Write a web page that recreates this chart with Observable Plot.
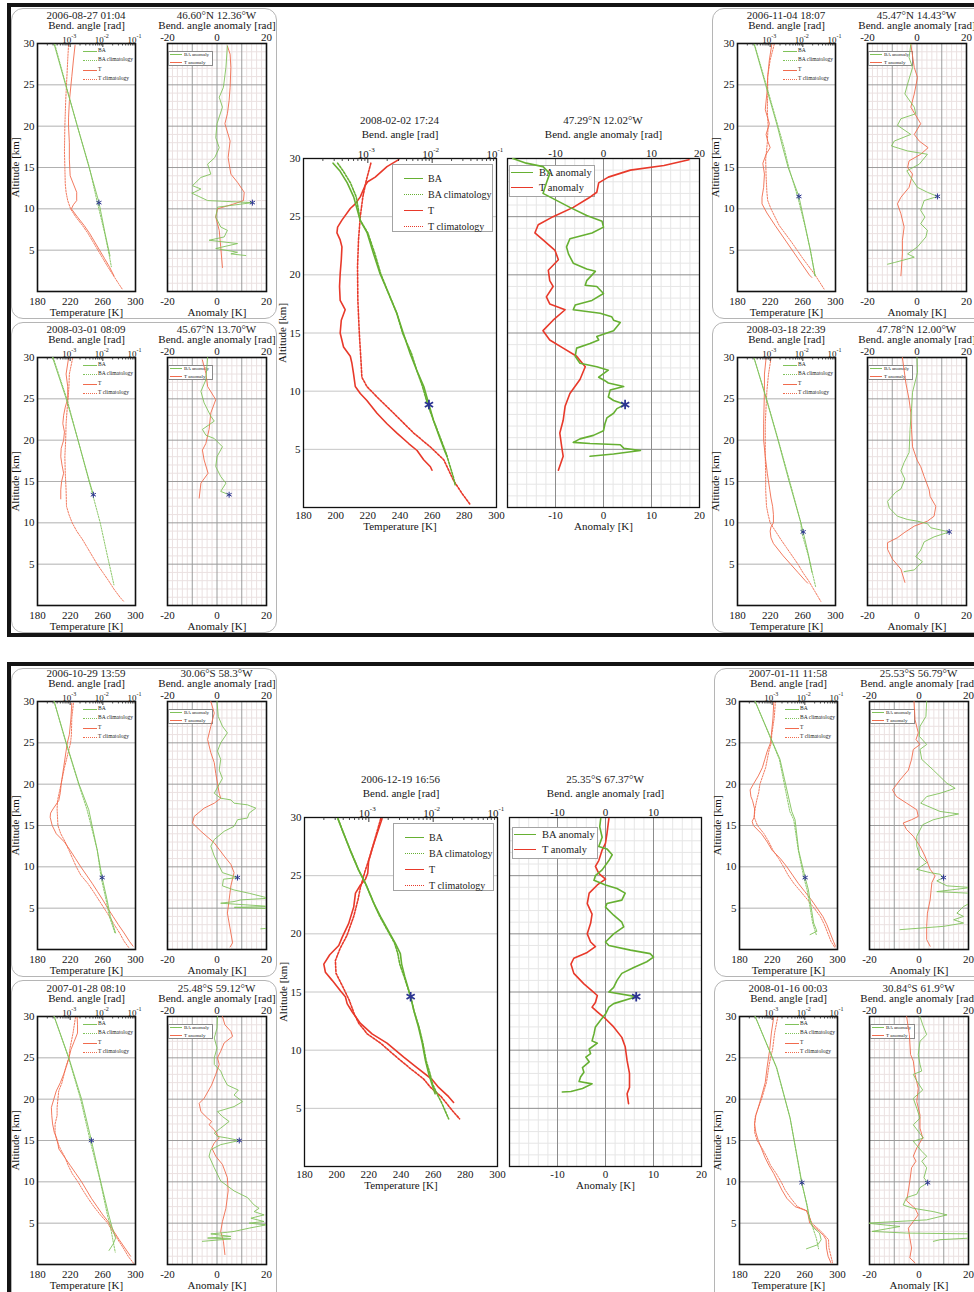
<!DOCTYPE html>
<html>
<head>
<meta charset="utf-8">
<script src="https://cdn.jsdelivr.net/npm/d3@7"></script>
<script src="https://cdn.jsdelivr.net/npm/@observablehq/plot@0.6"></script>
<style>
  html, body { margin: 0; padding: 0; background: #fff; }
  #page { position: relative; width: 974px; height: 1292px; overflow: hidden;
          font-family: "Liberation Serif", "Times New Roman", serif; color: #1c1c1c; }
  .panel { position: absolute; border: 4px solid #141414; box-sizing: border-box; }
  .card { position: absolute; border: 1px solid #b5b5b5; border-radius: 12px; box-sizing: border-box; }
  .title { position: absolute; transform: translate(-50%, -50%); font-size: 11px; line-height: 1; white-space: nowrap; }
  .legend { position: absolute; box-sizing: border-box; }
  .legend .swatch { position: absolute; height: 0; }
  .legend .lab { position: absolute; transform: translateY(-50%); line-height: 1; white-space: nowrap; }
</style>
</head>
<body>
<div id="page"></div>
<script>
// ---------------------------------------------------------------------------
// Labels and ticks
// ---------------------------------------------------------------------------
const eventTimes = ["2006-08-27 01:04", "2006-11-04 18:07", "2008-03-01 08:09", "2008-03-18 22:39",
  "2008-02-02 17:24", "2006-10-29 13:59", "2007-01-28 08:10", "2007-01-11 11:58", "2008-01-16 00:03",
  "2006-12-19 16:56"];
const eventPlaces = ["46.60°N 12.36°W", "45.47°N 14.43°W", "45.67°N 13.70°W", "47.78°N 12.00°W",
  "47.29°N 12.02°W", "30.06°S 58.3°W", "25.48°S 59.12°W", "25.53°S 56.79°W", "30.84°S 61.9°W",
  "25.35°S 67.37°W"];
const legendProfile = ["BA", "BA climatology", "T", "T climatology"];
const legendAnomaly = ["BA anomaly", "T anomaly"];
const tempTicksSmall = [180, 220, 260, 300];
const tempTicksBig = [180, 200, 220, 240, 260, 280, 300];
const anomTicksSmall = [-20, 0, 20];
const anomTicksBig = [-10, 0, 10, 20];
const anomTicksBigTop = [-10, 0, 10];
const altTicks = [5, 10, 15, 20, 25, 30];
const decades = [1e-3, 1e-2, 1e-1];

// ---------------------------------------------------------------------------
// Profiles: [altitude km, value]. Bending angle given as log10(rad).
// ---------------------------------------------------------------------------
// 2006-08-27 01:04
const e1_T = [[29.8,226],[28,224],[26,222],[25,221],[23,219],[21,218],[20,218],[18,219],[16,219],[14,220],[13,224],[12,228],[11,228],[10.5,224],[10,221.5],[9,229],[8,237],[7,244],[6,250],[5,256],[4,262],[3,268],[1.9,273.6]];
const e1_Tclim = [[29.8,218],[28,217],[26,216],[25,215.5],[23,214.5],[20,213.5],[17,213],[15,213.5],[13,214],[12,215],[11,217],[10,220.5],[9,227],[8,235],[7,242],[6,248],[5,254],[4,260],[3,266],[2,272.5],[1,279],[0.3,283.7]];
const e1_logBA = [[29.9,-3.49],[25,-3.14],[20,-2.78],[15,-2.42],[10.8,-2.12],[7,-1.93],[4.3,-1.78]];
const e1_logBAclim = [[29.9,-3.47],[25,-3.13],[20,-2.78],[15,-2.41],[10.8,-2.17],[7,-1.94],[4.3,-1.8],[3,-1.74]];
const e1_BAanom = [[29.7,4.2],[27.1,3.6],[24.7,2.6],[23.5,0.9],[22.3,2.2],[20.3,0],[18.6,-0.5],[17.4,0.9],[16.2,-0.9],[15.4,-3.8],[14.2,-2.5],[13.8,-6.5],[12.8,-9.9],[12.4,-6.5],[12.0,-9.2],[11.9,-10.2],[11.0,-3.8],[10.75,14.3],[10.2,0.2],[9.0,-0.5],[7.8,1.5],[7.4,4.2],[6.6,2.9],[6.2,-3.2],[5.8,8.3],[5.2,-0.5],[4.75,8.3],[4.55,5.6],[4.35,11.6]];
const e1_Tanom = [[29.7,4.2],[28.7,5.3],[27.1,5.6],[24.7,5.3],[23.1,4.9],[21.5,4.2],[20.3,3.2],[18.2,5.3],[16.2,4.5],[14.2,5.6],[13.2,8.3],[12.0,11],[11.0,10.7],[10.6,6.9],[10.0,0.2],[9.0,-0.5],[7.4,0.9],[5.4,1.5],[2.9,2.2]];
const e1_star = [10.75, -2.12];
const e1_starAnom = [10.75, 14.3];

// 2006-11-04 18:07
const e2_T = [[29.9,222],[28,219],[26,217],[24,216],[22,214],[20.3,219],[19,215],[18.2,217],[17.4,220],[16.6,215],[15.5,211],[14.2,213],[12.6,212],[11.4,210],[10.6,210],[9.5,216],[8,226],[6,240],[4,254],[2,268],[1.7,271]];
const e2_Tclim = [[29.9,225],[28,220],[26,217],[24,217],[22,216.5],[20,217.5],[18,216.5],[16,214.5],[14,215],[12,216],[11,217],[10,221],[8,231],[6,246],[4,260],[2,275],[0.3,286]];
const e2_logBA = [[29.9,-3.49],[25,-3.14],[20,-2.78],[17.5,-2.62],[15,-2.45],[11.5,-2.12],[8,-1.93],[5,-1.77],[1.9,-1.63]];
const e2_logBAclim = [[29.9,-3.48],[25,-3.12],[20,-2.76],[17.5,-2.58],[15,-2.43],[11.5,-2.16],[8,-1.94],[5,-1.77],[1.9,-1.62]];
const e2_BAanom = [[29.9,-2.5],[28.3,-3.2],[27.1,-1.8],[25.1,-3.8],[23.9,-4.9],[22.3,-1.1],[21.5,-0.5],[20.9,-6.5],[20.1,-7.9],[19.0,-2.5],[18.2,-9.2],[17.6,-10.3],[17.0,-3.8],[16.6,4.2],[15.4,0.9],[14.6,-4.1],[13.8,-2.5],[12.6,0.2],[12.0,4.2],[11.5,8.3],[11.0,2.9],[9.8,1.5],[9.0,3.2],[8.2,1.5],[7.4,4.2],[6.6,3.6],[5.4,0.2],[4.55,-3.8],[4.15,-1.1],[3.5,-9.2],[3.3,-11.9]];
const e2_Tanom = [[29.9,-2.5],[27.1,-1.1],[25.9,0.2],[23.9,-1.1],[22.3,-2.5],[20.3,1.5],[19.0,-1.1],[18.2,0.9],[17.4,4.5],[16.6,1.5],[15.8,-3.2],[15.0,-3.8],[14.2,-1.8],[12.6,-3.2],[11.4,-6.5],[10.6,-7.9],[9.4,-6.5],[7.8,-5.2],[6.2,-5.9],[4.55,-5.9],[1.9,-6.5]];
const e2_star = [11.5, -2.12];
const e2_starAnom = [11.5, 8.3];

// 2008-03-01 08:09
const e3_T = [[29.9,218],[28,215],[26.5,217],[25,217],[24,214],[23,212],[22,211],[21,213],[20,212],[19,209],[18,208.5],[17,210],[16,212],[15,209.5],[14,208.5],[12.9,208.5]];
const e3_Tclim = [[29.9,223],[28,219],[26.5,218.5],[25,217.5],[24,216.5],[22,215],[20,214.5],[18,213.5],[16,214],[14,215],[12,215.5],[11,218.5],[10,222.5],[9,228],[8,235],[7,241],[6,247],[5,253],[4,260],[3,267],[2,273.5],[1,281],[0.5,285.5]];
const e3_logBA = [[30,-3.54],[25,-3.12],[20,-2.76],[15,-2.41],[13.4,-2.29]];
const e3_logBAclim = [[30,-3.52],[25,-3.1],[20,-2.76],[15,-2.42],[13.4,-2.31],[10,-2.08],[6,-1.86],[2.5,-1.66]];
const e3_BAanom = [[30,-3.8],[27.3,-4.5],[25.9,-6.5],[24.5,-5.2],[22.9,-2.5],[22.3,-1.1],[21.3,-5.9],[20.6,-4.5],[20.2,-1.1],[19.2,2.2],[18.0,0],[16.8,-0.5],[15.6,1.5],[14.8,3.6],[13.8,1.5],[13.4,4.9]];
const e3_Tanom = [[29.7,-5.9],[28.1,-4.5],[26.5,-3.8],[24.9,-0.5],[23.3,-2.5],[21.3,-3.2],[19.6,-4.5],[18.8,-5.9],[17.6,-5.2],[16.0,-3.6],[14.8,-6.5],[13.0,-7.2]];
const e3_star = [13.4, -2.29];
const e3_starAnom = [13.4, 4.9];

// 2008-03-18 22:39
const e4_T = [[29.9,215],[28,213],[26,213],[24,212.5],[22,212],[20,212],[18,214],[16,216.5],[14,219.5],[13,221],[12,223],[11,224],[10,224],[9.5,221],[9,220],[8.2,221],[7.5,224],[6,236],[5,245],[4,254],[3,263],[2.7,266]];
const e4_Tclim = [[29.9,221],[28,218],[26,216],[24,215],[22,214],[20,214],[18,214],[16,214.5],[14,214.5],[12,215.5],[11,217.5],[10,220],[9,226.5],[8,233],[7,240],[6,247],[5,254],[4,260],[3,267],[2,273],[1,279],[0.5,282]];
const e4_logBA = [[29.9,-3.49],[25,-3.12],[20,-2.76],[15,-2.42],[10,-2.06],[8.9,-1.99],[6,-1.82],[4,-1.72]];
const e4_logBAclim = [[29.9,-3.49],[25,-3.11],[20,-2.75],[15,-2.4],[10,-2.06],[8.9,-2.04],[6,-1.83],[2.3,-1.61]];
const e4_BAanom = [[30,0],[28.2,0.2],[25.8,-1.8],[23.8,-2.2],[21.3,-2.8],[18.5,-3.2],[17.3,-5.2],[16.3,-6.5],[15.3,-4.9],[14.1,-6.5],[13.7,-8.6],[12.6,-11.9],[11.8,-11.2],[10.8,-7.9],[10.4,-3.8],[10.2,0.2],[9.9,4.2],[9.4,5.6],[8.9,13],[8.3,6.9],[7.7,2.9],[6.7,1.5],[5.9,-0.5],[5.3,2.2],[4.7,0.2],[4.3,-1.1],[4.1,-5.2]];
const e4_Tanom = [[30,-5.9],[26.9,-4.5],[24.9,-3.2],[23.3,-2.5],[21.3,-2.2],[19.2,-1.8],[17.6,0],[16.8,1.5],[15.6,2.9],[14.0,4.9],[13.2,5.3],[12.0,7.6],[10.8,6.9],[10.2,4.2],[9.6,-1.1],[8.8,-5.2],[8.2,-7.9],[7.6,-11.9],[6.8,-11.9],[5.6,-9.9],[4.4,-6.5],[2.8,-4.9]];
const e4_star = [8.9, -1.99];
const e4_starAnom = [8.9, 13];

// 2008-02-02 17:24
const e5_T = [[29.9,239.2],[29.3,231.9],[28.4,224.6],[28.0,219.9],[27.7,218.4],[26.7,215.3],[26.1,212.2],[25.7,209.1],[24.7,203.9],[24.1,201.2],[23.6,200.8],[23.0,202.8],[22.4,203.9],[21.3,203.5],[20.1,202.8],[19.0,202.4],[17.8,202.8],[17.0,205.9],[16.1,203.5],[15.0,202.8],[13.8,204.9],[13.0,209.1],[12.4,210.1],[11.5,211.1],[10.4,212.2],[9.8,215.3],[9.2,219.4],[8.1,225.7],[7.2,231.9],[6.4,238.1],[5.5,245.4],[4.9,250.6],[4.1,254.7],[3.5,258.9],[3.2,259.9]];
const e5_Tclim = [[29.6,221.9],[28.1,219.0],[26.7,216.9],[25.0,215.3],[23.0,214.2],[20.7,213.6],[17.8,213.8],[15.0,214.7],[12.7,215.7],[11.2,216.3],[10.4,219.4],[9.5,225.7],[8.1,236.1],[6.4,248.5],[5.2,258.9],[4.1,267.2],[2.9,271.3],[2.3,273.4],[1.2,278.6],[0.3,283.4]];
const e5_logBA = [[29.6,-3.54],[28.9,-3.43],[27.9,-3.32],[26.7,-3.22],[24.7,-3.12],[23.6,-3.01],[21.8,-2.91],[20.1,-2.81],[18.7,-2.7],[16.7,-2.55],[15.0,-2.45],[13.2,-2.34],[11.8,-2.24],[10.4,-2.13],[8.85,-2.05],[7.5,-1.98],[5.8,-1.87],[4.8,-1.8],[4.4,-1.77]];
const e5_logBAclim = [[29.6,-3.47],[28.9,-3.38],[27.9,-3.27],[26.7,-3.18],[24.7,-3.12],[23.6,-3.0],[21.8,-2.89],[20.1,-2.8],[18.7,-2.7],[16.7,-2.55],[15.0,-2.46],[13.2,-2.32],[11.8,-2.24],[10.4,-2.15],[8.85,-2.07],[7.5,-1.98],[5.8,-1.86],[4.6,-1.78],[2.6,-1.67],[1.9,-1.64]];
const e5_BAanom = [[30,-18.9],[29.6,-16.1],[29.3,-12.6],[28.7,-11.2],[27.9,-11.9],[27.0,-12.6],[26.4,-9.8],[25.8,-7.0],[25.1,-3.5],[24.6,-0.3],[24.1,0],[23.6,-2.4],[23.1,-7.0],[22.4,-7.7],[21.8,-7.3],[21.0,-6.3],[20.5,-3.5],[20.3,-1.7],[19.5,-3.5],[19.1,-3.8],[19.0,-1.4],[18.4,0],[17.8,-2.4],[17.4,-5.9],[17.0,-6.3],[16.7,-0.7],[16.4,1.7],[16.1,2.1],[15.9,3.5],[15.2,2.1],[14.7,-1.4],[14.4,-1.0],[14.1,-2.8],[13.7,-5.6],[13.0,-5.9],[12.4,-4.9],[12.1,-1.4],[11.8,1.0],[11.2,-1.0],[10.9,0.3],[10.7,1.0],[10.4,4.2],[10.1,1.4],[9.5,1.0],[9.2,2.1],[8.85,4.5],[8.5,2.8],[8.1,2.1],[7.7,0.7],[7.2,0.3],[6.6,0],[6.2,-2.1],[5.9,-4.9],[5.6,-6.3],[5.5,-2.8],[5.4,3.5],[5.1,4.2],[4.9,7.7],[4.6,2.1],[4.4,-2.8]];
const e5_Tanom = [[29.9,17.8],[29.4,12.6],[29.0,5.6],[28.4,1.0],[27.9,-1.0],[27.1,-1.4],[26.6,-3.1],[25.8,-6.3],[25.0,-10.5],[24.3,-13.6],[23.6,-14.3],[23.0,-12.6],[22.1,-10.1],[21.3,-9.4],[20.4,-11.5],[19.5,-11.2],[19.0,-10.5],[18.1,-11.9],[17.5,-11.2],[17.0,-8.0],[16.1,-10.5],[15.2,-12.6],[14.4,-11.2],[13.7,-8.4],[13.0,-5.6],[12.1,-3.8],[11.0,-4.9],[9.8,-7.0],[8.7,-8.0],[7.5,-8.4],[6.4,-9.1],[5.2,-8.7],[4.4,-8.4],[3.2,-9.4]];
const e5_star = [8.85, -2.05];
const e5_starAnom = [8.85, 4.5];

// 2006-10-29 13:59
const e6_T = [[29.8,222],[28,221],[26,219],[25,216.5],[24,215],[22,212],[20,209],[19,208],[18,206],[17,199],[16.5,196],[16,195.5],[15,198],[14,203],[13,213],[12,220],[11,226.5],[10,233],[9,240],[8,247],[7,253.5],[6,260],[5,266],[4,272.5],[3,279],[2,286],[1,292.5],[0.4,297]];
const e6_Tclim = [[29.8,224],[28,222],[26,221.5],[25,220.5],[24,218],[22,213],[20,208.8],[18,204.5],[17,204],[16,204.5],[15,205],[14,208.5],[13,214],[12,218.5],[11,223],[10,227.5],[9,233],[8,241.5],[7,248.5],[6,255],[5,261.5],[4,268],[3,274],[2,280.5],[1,286],[0.2,292]];
const e6_logBA = [[30,-3.49],[25,-3.12],[20,-2.73],[16.9,-2.43],[15,-2.33],[12,-2.17],[8.66,-2.02],[6,-1.87],[4,-1.77],[2,-1.61]];
const e6_logBAclim = [[30,-3.49],[25,-3.13],[20,-2.74],[17,-2.49],[15,-2.36],[12,-2.17],[8.66,-2.05],[6,-1.9],[4,-1.8],[2,-1.63]];
const e6_BAanom = [[30,0],[28.2,0.5],[27,2.2],[26.2,4.2],[25,1.5],[24,0.2],[23,1.5],[21.7,0.9],[20.7,2.2],[18.9,-1.1],[18.3,1.5],[18.1,5.6],[17.7,6.9],[17.5,12.3],[17.1,15.7],[16.5,13],[15.9,12.3],[15.7,8.3],[14.9,6.9],[14.3,2.9],[13.3,-1.1],[12.5,-2.5],[11.3,-1.1],[10.1,0.9],[9.3,2.2],[8.7,8.3],[8.5,2.6],[7.7,2.2],[7.2,6.9],[6.8,13],[6.2,21],[6.0,9.6],[5.8,6.9],[5.6,1.5],[5.2,22],[5.1,7],[4.9,25],[4.0,28],[2.6,22],[2.5,17.7]];
const e6_Tanom = [[30,-2.5],[28.6,-1.1],[27,-2.5],[25.4,-3.8],[23.8,-2.5],[22.6,-1.1],[21.3,-0.5],[20.1,0.2],[18.9,0.9],[18.3,1.5],[17.7,-1.1],[17.1,-5.2],[16.1,-9.2],[15.3,-9.9],[14.3,-6.5],[12.9,-1.1],[11.3,2.9],[10.3,5.6],[9.3,6.9],[7.7,5.6],[6.0,4.9],[4.4,4.2],[2.0,5.6],[0.8,6.3],[0.3,5.3]];
const e6_star = [8.7, -2.02];
const e6_starAnom = [8.7, 8.3];

// 2007-01-28 08:10
const e7_T = [[29.9,228.5],[29,229],[28,229],[27,225],[26,221],[25,218.5],[24,215.5],[23,212],[22,208],[21,203],[20,200],[19,197],[18,197.5],[17,198.5],[16,200.5],[15,204.5],[14,206],[13,213],[12,220],[11,227],[10,234],[9,240],[8,246],[7,253],[6,260],[5,268],[4,273.5],[3,280],[2,287],[1,294]];
const e7_Tclim = [[29.9,226.5],[28,223.5],[26,219.5],[25,218.5],[24,215],[23,212.5],[22,210],[21,206],[20,205],[19,204],[18,204],[17,201.5],[16,201.5],[15,203.5],[14,208],[13,213.5],[12,217.5],[11,222.5],[10,229.5],[9,235.5],[8,242],[7,249],[6,257],[5,266],[4,272],[3,278.5],[2,285],[1,291],[0.1,298]];
const e7_logBA = [[30,-3.49],[25,-3.04],[20,-2.65],[15,-2.35],[10.1,-2.07],[6,-1.82],[4.4,-1.71],[3.2,-1.61],[2.5,-1.68],[1.7,-1.81]];
const e7_logBAclim = [[30,-3.49],[25,-3.05],[20,-2.68],[15,-2.39],[10.1,-2.08],[6,-1.86],[4.4,-1.76],[2.5,-1.67],[1.5,-1.62]];
const e7_BAanom = [[30,0.2],[28.6,0],[27.4,-1.1],[26.2,0],[25,-1.1],[24.2,-1.1],[23.4,1.5],[22.6,2.6],[21.7,4.2],[21.1,8.6],[20.5,6.9],[19.7,10.3],[19.1,6.9],[18.5,0.2],[17.9,2.2],[17.3,4.9],[16.5,1.5],[15.9,-1.1],[15.5,0.2],[15.3,4.2],[15.0,9.0],[14.5,1.5],[13.9,-2.5],[13.1,-3.2],[11.7,-1.1],[10.1,1.5],[8.9,6.9],[8.1,12.3],[7.2,15],[6.8,17],[6.4,15],[6.0,19],[5.6,13.7],[5.2,19],[5.0,13],[4.8,20],[4.4,13],[4.0,6.9],[3.9,4.2],[3.7,-2.5],[3.4,5.6],[3.2,-3.8],[3.1,5.6],[2.8,-5.9]];
const e7_Tanom = [[30,2.2],[29,3.2],[28.2,5.6],[27.6,6.3],[26.8,2.9],[25.8,1.5],[25,0.2],[24.2,0.9],[23,-0.5],[21.7,-2.2],[20.1,-5.2],[19.5,-7.2],[18.5,-6.5],[17.7,-3.8],[17.3,-2.2],[16.9,-3.2],[16.3,-1.1],[15.3,0.9],[14.7,-1.1],[14.1,-2.1],[13.1,-0.5],[12.1,2.2],[10.5,4.2],[8.9,4.5],[6.8,3.6],[5.2,2.2],[4.0,1.5],[2.8,2.6],[1.2,3.2]];
const e7_star = [15, -2.35];
const e7_starAnom = [15, 9];

// 2007-01-11 11:58
const e8_T = [[30,222],[28,221],[26,219],[25,218],[24,214],[23,211],[22,208],[21,203],[20,197],[19.3,193],[18.5,194],[18,196],[17,198.5],[16,198],[15.5,195.5],[15,197],[14,207],[13,214],[12,220],[11,230],[10,238],[9,245],[8,252],[7,260],[6,268],[5,275],[4,282],[3,287],[2,291],[1,295],[0.4,297.5]];
const e8_Tclim = [[30,224],[28,222.5],[26,219.5],[25,219],[24,216],[22,212],[20,205],[19,203.5],[18,201],[17,199],[16,198],[15,202],[14,210],[13,216],[12,221],[11,228],[10,234],[9,239.5],[8,246.5],[7,255],[6,263.5],[5,271.5],[4,279],[3,284],[2,288],[1,292],[0.2,297]];
const e8_logBA = [[30,-3.52],[23,-2.76],[16.7,-2.4],[15.7,-2.3],[12,-2.19],[8.7,-1.99],[7.2,-1.89],[3.2,-1.73],[2.2,-1.63],[1.8,-1.84]];
const e8_logBAclim = [[30,-3.52],[23,-2.78],[16.7,-2.46],[15.7,-2.34],[12,-2.2],[8.7,-2.03],[7.2,-1.93],[3.2,-1.76],[1.8,-1.65]];
const e8_BAanom = [[30,3.1],[28.2,2.8],[27,0.4],[25.8,0.1],[24.8,3.1],[24.2,0.4],[23,1.1],[21.7,5.8],[20.1,11.3],[19.5,14.6],[18.9,8.5],[18.5,3.1],[17.7,0.7],[16.7,8.5],[16.4,16],[16.1,11.3],[15.7,5.8],[15.1,1.5],[13.7,-0.9],[12.5,-0.9],[11.3,0.4],[10.5,3.1],[9.7,-0.9],[9.3,4.5],[9.1,8.5],[8.7,9.9],[8.3,7.2],[7.7,11.3],[7.5,21],[7.0,7.2],[6.8,21],[6.0,23],[5.2,18],[4.4,15.3],[4.0,18],[3.6,14],[3.2,18],[2.8,9.9],[2.4,-7.7]];
const e8_Tanom = [[30,-2.0],[27.8,-1.6],[26.2,-0.3],[25.4,-1.2],[24.8,0.4],[24.2,-2.3],[23,-3.0],[21.7,-4.3],[20.5,-7.7],[19.3,-10.7],[18.5,-9.1],[17.7,-5.0],[16.9,-0.9],[16.1,-0.3],[15.7,-3.0],[15.3,-6.4],[14.5,-5.0],[13.7,-2.3],[12.5,0.4],[11.3,2.4],[9.7,4.5],[8.9,6.5],[8.1,5.2],[6.0,4.5],[4.4,3.4],[2.8,3.1],[1.2,3.1],[0.4,4.5]];
const e8_star = [8.7, -1.99];
const e8_starAnom = [8.7, 9.9];

// 2008-01-16 00:03
const e9_T = [[30,222],[28,219],[26,217],[25,215.5],[24,214],[22,211.5],[20,206],[18,200],[17,198.5],[16,200],[15,203],[14,207],[13,211],[12,216],[11,222],[10,227],[9,232],[8,238],[7,248],[6.5,262],[6,264],[5,266],[4,278],[3.5,283],[3,286],[2,286.5],[1,288.5],[0.2,292]];
const e9_Tclim = [[30,227],[28,223],[26,220.5],[25,218],[24,216],[22,213],[20,207],[18,199.5],[17,198.5],[16,198.5],[15,201.5],[14,208],[13,213.5],[12,218],[11,225],[10,231],[9,236],[8,243],[7,251],[6.5,262.5],[6,265],[5,268.5],[4,280],[3,289],[2,289.5],[1,292],[0.2,294]];
const e9_logBA = [[30,-3.52],[23.8,-2.86],[17.7,-2.45],[9.9,-2.09],[7.2,-1.94],[5.5,-1.86],[4.5,-1.75],[3.8,-1.55],[3.0,-1.5],[2.4,-1.6],[1.9,-1.95]];
const e9_logBAclim = [[30,-3.52],[23.8,-2.87],[17.7,-2.45],[9.9,-2.1],[7.2,-1.93],[5.5,-1.85],[4.5,-1.76],[3.2,-1.65],[1.9,-1.58]];
const e9_BAanom = [[30,0.4],[29,1.5],[27.8,3.1],[27,0.4],[25.4,-0.3],[24.2,0.4],[23.4,1.1],[23,-2.3],[22.2,-0.9],[21.1,1.5],[20.1,-2.3],[18.9,-0.9],[17.7,0.4],[16.9,-2.3],[16.1,-0.3],[15.3,1.8],[14.9,-2.3],[13.7,1.1],[13.1,3.1],[12.5,1.1],[11.7,3.1],[10.5,2.0],[9.9,3.5],[9.3,0.4],[8.5,-0.9],[8.1,-5.0],[7.2,-6.4],[6.8,-2.3],[6.4,5.8],[6.0,11.3],[5.4,3.1],[5.0,-21],[4.6,-7.7],[4.0,-19],[3.8,-5],[3.7,22],[3.2,21],[3.0,8.5],[2.8,5.8]];
const e9_Tanom = [[30,-5.0],[27.8,-3.9],[25.4,-3.4],[24.6,-2.3],[23,-1.6],[21.3,-0.3],[19.7,-0.9],[18.1,0.4],[16.5,0.4],[15.3,1.5],[14.1,-0.9],[13.1,-2.3],[12.5,-1.2],[11.7,-3.0],[10.1,-3.7],[8.9,-4.3],[7.7,-5.0],[6.8,-1.6],[6.0,-0.3],[5.2,-2.3],[4.4,-4.3],[3.2,-3.7],[2.0,-3.0],[0.8,-3.7],[0.2,-1.6]];
const e9_star = [9.9, -2.09];
const e9_starAnom = [9.9, 3.5];

// 2006-12-19 16:56
const e10_T = [[29.9,228.2],[28.6,225.1],[27.3,222.0],[26.3,219.9],[25.2,219.3],[24.7,217.9],[24.2,214.8],[23.5,211.7],[22.3,210.6],[20.9,207.5],[19.7,203.4],[19.0,201.3],[18.2,195.7],[17.4,192.0],[16.7,193.0],[16.0,197.2],[15.1,202.3],[14.6,205.4],[14.0,206.5],[13.3,209.6],[12.3,214.8],[11.4,222.0],[10.6,231.3],[9.4,241.7],[8.5,249.9],[7.5,259.2],[6.8,263.4],[6.0,269.6],[5.5,272.7]];
const e10_Tclim = [[29.9,227.4],[28.3,224.1],[26.6,220.6],[25.5,217.9],[24.0,214.8],[22.9,213.2],[21.5,210.6],[19.9,206.5],[18.7,202],[17.7,199.2],[16.6,199.6],[15.4,204],[14.3,207.8],[13.1,211],[12.3,213.8],[11.4,219],[10.6,227.3],[9.4,237.3],[8.5,245.1],[7.5,254.2],[6.8,258.4],[6.0,265],[5.5,267.9],[4.8,272],[4.1,276.4]];
const e10_logBA = [[29.9,-3.48],[28.6,-3.39],[27.2,-3.29],[25.5,-3.16],[24.3,-3.05],[22.6,-2.92],[21.5,-2.82],[20.0,-2.67],[19.2,-2.59],[18.3,-2.51],[17.4,-2.49],[16.3,-2.44],[14.6,-2.35],[13.4,-2.3],[12.0,-2.23],[10.6,-2.17],[9.1,-2.12],[8.0,-2.07],[7.1,-2.02],[6.25,-1.97]];
const e10_logBAclim = [[29.9,-3.48],[28.6,-3.39],[27.2,-3.29],[25.5,-3.16],[24.3,-3.05],[22.6,-2.92],[21.5,-2.83],[20.0,-2.68],[19.2,-2.6],[18.3,-2.55],[17.4,-2.52],[16.3,-2.45],[14.6,-2.35],[13.4,-2.3],[12.0,-2.22],[10.6,-2.16],[9.1,-2.11],[8.0,-2.05],[7.1,-2.01],[6.25,-1.94],[5.5,-1.87],[4.1,-1.76]];
const e10_BAanom = [[29.9,-1.0],[29.2,-1.2],[28.3,-0.7],[27.5,-1.4],[27.3,0.3],[26.8,1.4],[26.3,0.7],[25.5,-0.7],[25.0,-2.1],[24.6,-2.4],[24.2,0],[23.9,2.4],[23.5,4.1],[22.9,3.4],[22.6,0.3],[22.3,0],[21.6,1.7],[21.0,3.4],[20.6,3.8],[20.0,1.7],[19.3,0],[19.0,0.7],[18.6,5.2],[18.3,9.3],[18.0,10.0],[17.6,8.6],[17.1,5.9],[16.6,3.4],[16.0,2.4],[15.4,1.7],[15.0,0.7],[14.6,6.4],[14.0,1.7],[13.7,0.7],[13.1,0],[12.6,-1.0],[12.0,-2.1],[11.4,-2.4],[10.8,-2.8],[10.6,-1.7],[10.1,-3.4],[9.7,-3.1],[9.4,-4.1],[9.0,-3.4],[8.5,-4.8],[8.1,-4.5],[7.7,-5.2],[7.3,-5.5],[7.1,-2.8],[6.7,-4.8],[6.45,-7.2],[6.4,-9.0]];
const e10_Tanom = [[29.9,0.7],[28.6,0.3],[27.8,0],[27.2,-0.7],[26.3,-1.4],[25.8,-2.1],[25.2,-1.4],[24.7,0],[24.2,-1.7],[23.5,-3.4],[22.6,-3.8],[21.7,-2.8],[20.9,-3.1],[20.0,-3.8],[19.3,-3.1],[18.9,-2.1],[18.4,-3.8],[17.9,-6.6],[17.4,-7.2],[16.6,-6.6],[15.7,-4.5],[15.1,-2.8],[14.7,-1.7],[14.1,-2.1],[13.7,-2.8],[13.3,-1.7],[12.7,0],[12.0,1.7],[11.1,3.4],[10.3,4.1],[9.1,4.5],[8.0,5.0],[6.8,5.0],[6.25,4.5],[5.4,4.8]];
const e10_star = [14.6, -2.35];
const e10_starAnom = [14.6, 6.4];

// ---------------------------------------------------------------------------
// Styling for the two panel sizes
// ---------------------------------------------------------------------------
const FONT = '"Liberation Serif", "Times New Roman", serif';
const STAR = "#2c3592";

const SMALL = {
  fw: 98, fh: 248, aw: 99,
  lineW: 0.9, dash: "1.6,1.3", starR: 2.8, starW: 1,
  green: "#80c25a", red: "#f16b4d",
  tTicks: tempTicksSmall, anomTop: anomTicksSmall, anomBottom: anomTicksSmall,
  tGrid: "#b0b0b0", minorGrid: "#ebe1e1", majorGrid: "#9c9c9c", frameW: 1.6,
  padB: 5.5, labB: 24, padT: 2.5, labT: 22.5, labY: 26.5, titleDy: 28,
  logFont: 9, expFont: 6, logDy: 1, expRaise: 5, minorLen: 2.5, majorLen: 4,
  legL: {box: [44, 3, 54, 38], border: null, rows: [8, 17, 27, 36], lineX: [46, 60], textX: 61, font: 5.5, lw: 0.8},
  legR: {box: [1.3, 7.7, 45, 15.3], border: "0.6px solid #8a8a8a", rows: [11.3, 19.3], lineX: [3, 15.5], textX: 17, font: 5, lw: 0.8}
};
const BIG = {
  fw: 193, fh: 349, aw: 192,
  lineW: 1.6, dash: "2,1.6", starR: 4.5, starW: 1.8,
  green: "#66b032", red: "#e8392a",
  tTicks: tempTicksBig, anomTop: anomTicksBig, anomBottom: anomTicksBig,
  tGrid: "#c6c6c6", minorGrid: "#e6e6e6", majorGrid: "#8c8c8c", frameW: 1.3,
  padB: 3.5, labB: 22, padT: 2, labT: 28.5, labY: 25.5, titleDy: 38,
  logFont: 11, expFont: 7, logDy: 1, expRaise: 6, minorLen: 3, majorLen: 5,
  legL: {box: [89, 6, 101, 68], border: "1px solid #a3a3a3", rows: [21, 37, 53, 69], lineX: [101, 120], textX: 125, font: 10, lw: 1.5},
  legR: {box: [2, 7, 86, 32], border: "1px solid #a3a3a3", rows: [15, 30], lineX: [4, 26], textX: 32, font: 10.5, lw: 1.5}
};

// Frame positions (top-left of the temperature frame, left edge of the anomaly frame)
const layout = [
  {size: SMALL, fx: 37, fy: 43, ax: 167},
  {size: SMALL, fx: 737, fy: 43, ax: 867},
  {size: SMALL, fx: 37, fy: 357, ax: 167},
  {size: SMALL, fx: 737, fy: 357, ax: 867},
  {size: BIG, fx: 303, fy: 158, ax: 507},
  {size: SMALL, fx: 37, fy: 701, ax: 167},
  {size: SMALL, fx: 37, fy: 1016, ax: 167},
  {size: SMALL, fx: 739, fy: 701, ax: 869},
  {size: SMALL, fx: 739, fy: 1016, ax: 869},
  {size: BIG, fx: 304, fy: 817, ax: 509, anomTop: anomTicksBigTop,
   legR: {box: [3, 10, 86, 32], border: "1px solid #a3a3a3", rows: [18, 33], lineX: [5, 27], textX: 33, font: 10.5, lw: 1.5}}
];

const events = [
  {T: e1_T, Tclim: e1_Tclim, BA: e1_logBA, BAclim: e1_logBAclim, BAanom: e1_BAanom, Tanom: e1_Tanom, star: e1_star, starAnom: e1_starAnom},
  {T: e2_T, Tclim: e2_Tclim, BA: e2_logBA, BAclim: e2_logBAclim, BAanom: e2_BAanom, Tanom: e2_Tanom, star: e2_star, starAnom: e2_starAnom},
  {T: e3_T, Tclim: e3_Tclim, BA: e3_logBA, BAclim: e3_logBAclim, BAanom: e3_BAanom, Tanom: e3_Tanom, star: e3_star, starAnom: e3_starAnom},
  {T: e4_T, Tclim: e4_Tclim, BA: e4_logBA, BAclim: e4_logBAclim, BAanom: e4_BAanom, Tanom: e4_Tanom, star: e4_star, starAnom: e4_starAnom},
  {T: e5_T, Tclim: e5_Tclim, BA: e5_logBA, BAclim: e5_logBAclim, BAanom: e5_BAanom, Tanom: e5_Tanom, star: e5_star, starAnom: e5_starAnom},
  {T: e6_T, Tclim: e6_Tclim, BA: e6_logBA, BAclim: e6_logBAclim, BAanom: e6_BAanom, Tanom: e6_Tanom, star: e6_star, starAnom: e6_starAnom},
  {T: e7_T, Tclim: e7_Tclim, BA: e7_logBA, BAclim: e7_logBAclim, BAanom: e7_BAanom, Tanom: e7_Tanom, star: e7_star, starAnom: e7_starAnom},
  {T: e8_T, Tclim: e8_Tclim, BA: e8_logBA, BAclim: e8_logBAclim, BAanom: e8_BAanom, Tanom: e8_Tanom, star: e8_star, starAnom: e8_starAnom},
  {T: e9_T, Tclim: e9_Tclim, BA: e9_logBA, BAclim: e9_logBAclim, BAanom: e9_BAanom, Tanom: e9_Tanom, star: e9_star, starAnom: e9_starAnom},
  {T: e10_T, Tclim: e10_Tclim, BA: e10_logBA, BAclim: e10_logBAclim, BAanom: e10_BAanom, Tanom: e10_Tanom, star: e10_star, starAnom: e10_starAnom}
];

// Grid positions
const altMajor = [5, 10, 15, 20, 25];
const altMinor = d3.range(1, 30).filter(v => v % 5 !== 0);
const anomMajor = [-10, 0, 10];
const anomMinor = d3.range(-18, 20, 2).filter(v => v % 10 !== 0);
const logMajor = [1e-3, 1e-2];
const logMinor = [1e-4, 1e-3, 1e-2].flatMap(p => d3.range(2, 10).map(k => k * p));

// ---------------------------------------------------------------------------
// Page scaffolding
// ---------------------------------------------------------------------------
const page = document.getElementById("page");

function box(cls, x, y, w, h) {
  const el = document.createElement("div");
  el.className = cls;
  Object.assign(el.style, {left: x + "px", top: y + "px", width: w + "px", height: h + "px"});
  page.appendChild(el);
}
function title(text, cx, cy) {
  const el = document.createElement("div");
  el.className = "title";
  el.textContent = text;
  el.style.left = cx + "px";
  el.style.top = cy + "px";
  page.appendChild(el);
}

// Outer framed panels and rounded cards
box("panel", 7, 3, 1010, 634);
box("panel", 7, 662, 1010, 700);
[[11, 8, 266, 311], [11, 322, 266, 311], [712, 8, 290, 311], [712, 322, 290, 311],
 [11, 668, 266, 309], [11, 980, 266, 330], [714, 668, 290, 309], [714, 980, 290, 330]]
  .forEach(([x, y, w, h]) => box("card", x, y, w, h));

const M = {marginTop: 48, marginRight: 8, marginBottom: 34, marginLeft: 34};
function base(w, h) {
  return {
    width: w + M.marginLeft + M.marginRight,
    height: h + M.marginTop + M.marginBottom,
    ...M,
    style: {background: "none", overflow: "visible", fontFamily: FONT, fontSize: "11px", color: "#161616"}
  };
}
function mount(svg, fx, fy) {
  svg.style.position = "absolute";
  svg.style.left = (fx - M.marginLeft) + "px";
  svg.style.top = (fy - M.marginTop) + "px";
  svg.style.maxWidth = "none";
  page.appendChild(svg);
}

function legend(fx, fy, spec, entries) {
  const el = document.createElement("div");
  el.className = "legend";
  const [bx, by, bw, bh] = spec.box;
  Object.assign(el.style, {
    left: fx + bx + "px", top: fy + by + "px", width: bw + "px", height: bh + "px",
    border: spec.border || "none", background: spec.border ? "#fff" : "transparent",
    fontSize: spec.font + "px"
  });
  const inset = spec.border ? 1 : 0;
  entries.forEach((e, i) => {
    const y = spec.rows[i] - by - inset;
    const sw = document.createElement("div");
    sw.className = "swatch";
    Object.assign(sw.style, {
      left: spec.lineX[0] - bx - inset + "px", top: y - spec.lw / 2 + "px",
      width: spec.lineX[1] - spec.lineX[0] + "px",
      borderTop: `${spec.lw}px ${e.dotted ? "dotted" : "solid"} ${e.color}`
    });
    el.appendChild(sw);
    const t = document.createElement("div");
    t.className = "lab";
    t.textContent = e.label;
    Object.assign(t.style, {left: spec.textX - bx - inset + "px", top: y + "px"});
    el.appendChild(t);
  });
  page.appendChild(el);
}

// ---------------------------------------------------------------------------
// One profile pair: temperature / bending angle on the left, anomalies on the right
// ---------------------------------------------------------------------------
function drawPair(i) {
  const L = layout[i], S = L.size, E = events[i];
  const alt = d => d[0], val = d => d[1], ba = d => 10 ** d[1];
  const fmt = d => String(d);

  title(eventTimes[i], L.fx + S.fw / 2, L.fy - S.titleDy);
  title(eventPlaces[i], L.ax + S.aw / 2, L.fy - S.titleDy);

  // Temperature (bottom axis)
  mount(Plot.plot({
    ...base(S.fw, S.fh),
    x: {domain: [180, 300]},
    y: {domain: [0, 30]},
    marks: [
      Plot.ruleY(altMajor, {stroke: S.tGrid, strokeWidth: 1}),
      Plot.line(E.Tclim, {x: val, y: alt, stroke: S.red, strokeWidth: S.lineW, strokeDasharray: S.dash}),
      Plot.line(E.T, {x: val, y: alt, stroke: S.red, strokeWidth: S.lineW}),
      Plot.axisX({anchor: "bottom", ticks: S.tTicks, tickSize: 0, tickPadding: S.padB, tickFormat: fmt,
        label: "Temperature [K]", labelAnchor: "center", labelArrow: "none", labelOffset: S.labB}),
      Plot.axisY({anchor: "left", ticks: altTicks, tickSize: 0, tickPadding: 3, tickFormat: fmt,
        label: "Altitude [km]", labelAnchor: "center", labelArrow: "none", labelOffset: S.labY}),
      Plot.frame({stroke: "#111", strokeWidth: S.frameW})
    ]
  }), L.fx, L.fy);

  legend(L.fx, L.fy, L.legL || S.legL, [
    {label: legendProfile[0], color: S.green, dotted: false},
    {label: legendProfile[1], color: S.green, dotted: true},
    {label: legendProfile[2], color: S.red, dotted: false},
    {label: legendProfile[3], color: S.red, dotted: true}
  ]);

  // Bending angle (top log axis), overlaid on the same frame
  mount(Plot.plot({
    ...base(S.fw, S.fh),
    x: {type: "log", domain: [1e-4, 1e-1]},
    y: {domain: [0, 30], axis: null},
    marks: [
      Plot.ruleX(logMinor, {stroke: "#222", strokeWidth: 0.8, insetBottom: S.fh - S.minorLen}),
      Plot.ruleX(logMajor, {stroke: "#222", strokeWidth: 0.9, insetBottom: S.fh - S.majorLen}),
      Plot.line(E.BAclim, {x: ba, y: alt, stroke: S.green, strokeWidth: S.lineW, strokeDasharray: S.dash}),
      Plot.line(E.BA, {x: ba, y: alt, stroke: S.green, strokeWidth: S.lineW}),
      Plot.dot([E.star], {x: ba, y: alt, symbol: "asterisk", r: S.starR, stroke: STAR, strokeWidth: S.starW}),
      Plot.axisX({anchor: "top", ticks: decades, tickSize: 0, tickFormat: () => "",
        label: "Bend. angle [rad]", labelAnchor: "center", labelArrow: "none", labelOffset: S.labT}),
      Plot.text(decades, {x: d => d, frameAnchor: "top", text: () => "10", textAnchor: "end",
        lineAnchor: "bottom", dx: 1, dy: -S.logDy, fontSize: S.logFont}),
      Plot.text(decades, {x: d => d, frameAnchor: "top", text: d => String(Math.round(Math.log10(d))),
        textAnchor: "start", lineAnchor: "bottom", dx: 1, dy: -S.logDy - S.expRaise, fontSize: S.expFont})
    ]
  }), L.fx, L.fy);

  // Anomaly grid and axes
  mount(Plot.plot({
    ...base(S.aw, S.fh),
    x: {domain: [-20, 20]},
    y: {domain: [0, 30], axis: null},
    marks: [
      Plot.ruleX(anomMinor, {stroke: S.minorGrid}),
      Plot.ruleY(altMinor, {stroke: S.minorGrid}),
      Plot.ruleX(anomMajor, {stroke: S.majorGrid}),
      Plot.ruleY(altMajor, {stroke: S.majorGrid}),
      Plot.axisX({anchor: "top", ticks: L.anomTop || S.anomTop, tickSize: 0, tickPadding: S.padT, tickFormat: fmt,
        label: "Bend. angle anomaly [rad]", labelAnchor: "center", labelArrow: "none", labelOffset: S.labT}),
      Plot.axisX({anchor: "bottom", ticks: L.anomBottom || S.anomBottom, tickSize: 0, tickPadding: S.padB, tickFormat: fmt,
        label: "Anomaly [K]", labelAnchor: "center", labelArrow: "none", labelOffset: S.labB}),
      Plot.frame({stroke: "#111", strokeWidth: S.frameW})
    ]
  }), L.ax, L.fy);

  legend(L.ax, L.fy, L.legR || S.legR, [
    {label: legendAnomaly[0], color: S.green, dotted: false},
    {label: legendAnomaly[1], color: S.red, dotted: false}
  ]);

  // Anomaly profiles on top of the legend box
  mount(Plot.plot({
    ...base(S.aw, S.fh),
    x: {domain: [-20, 20], axis: null},
    y: {domain: [0, 30], axis: null},
    marks: [
      Plot.line(E.Tanom, {x: val, y: alt, stroke: S.red, strokeWidth: S.lineW, clip: true}),
      Plot.line(E.BAanom, {x: val, y: alt, stroke: S.green, strokeWidth: S.lineW, clip: true}),
      Plot.dot([E.starAnom], {x: val, y: alt, symbol: "asterisk", r: S.starR, stroke: STAR, strokeWidth: S.starW})
    ]
  }), L.ax, L.fy);
}

events.forEach((_, i) => drawPair(i));
</script>
</body>
</html>
